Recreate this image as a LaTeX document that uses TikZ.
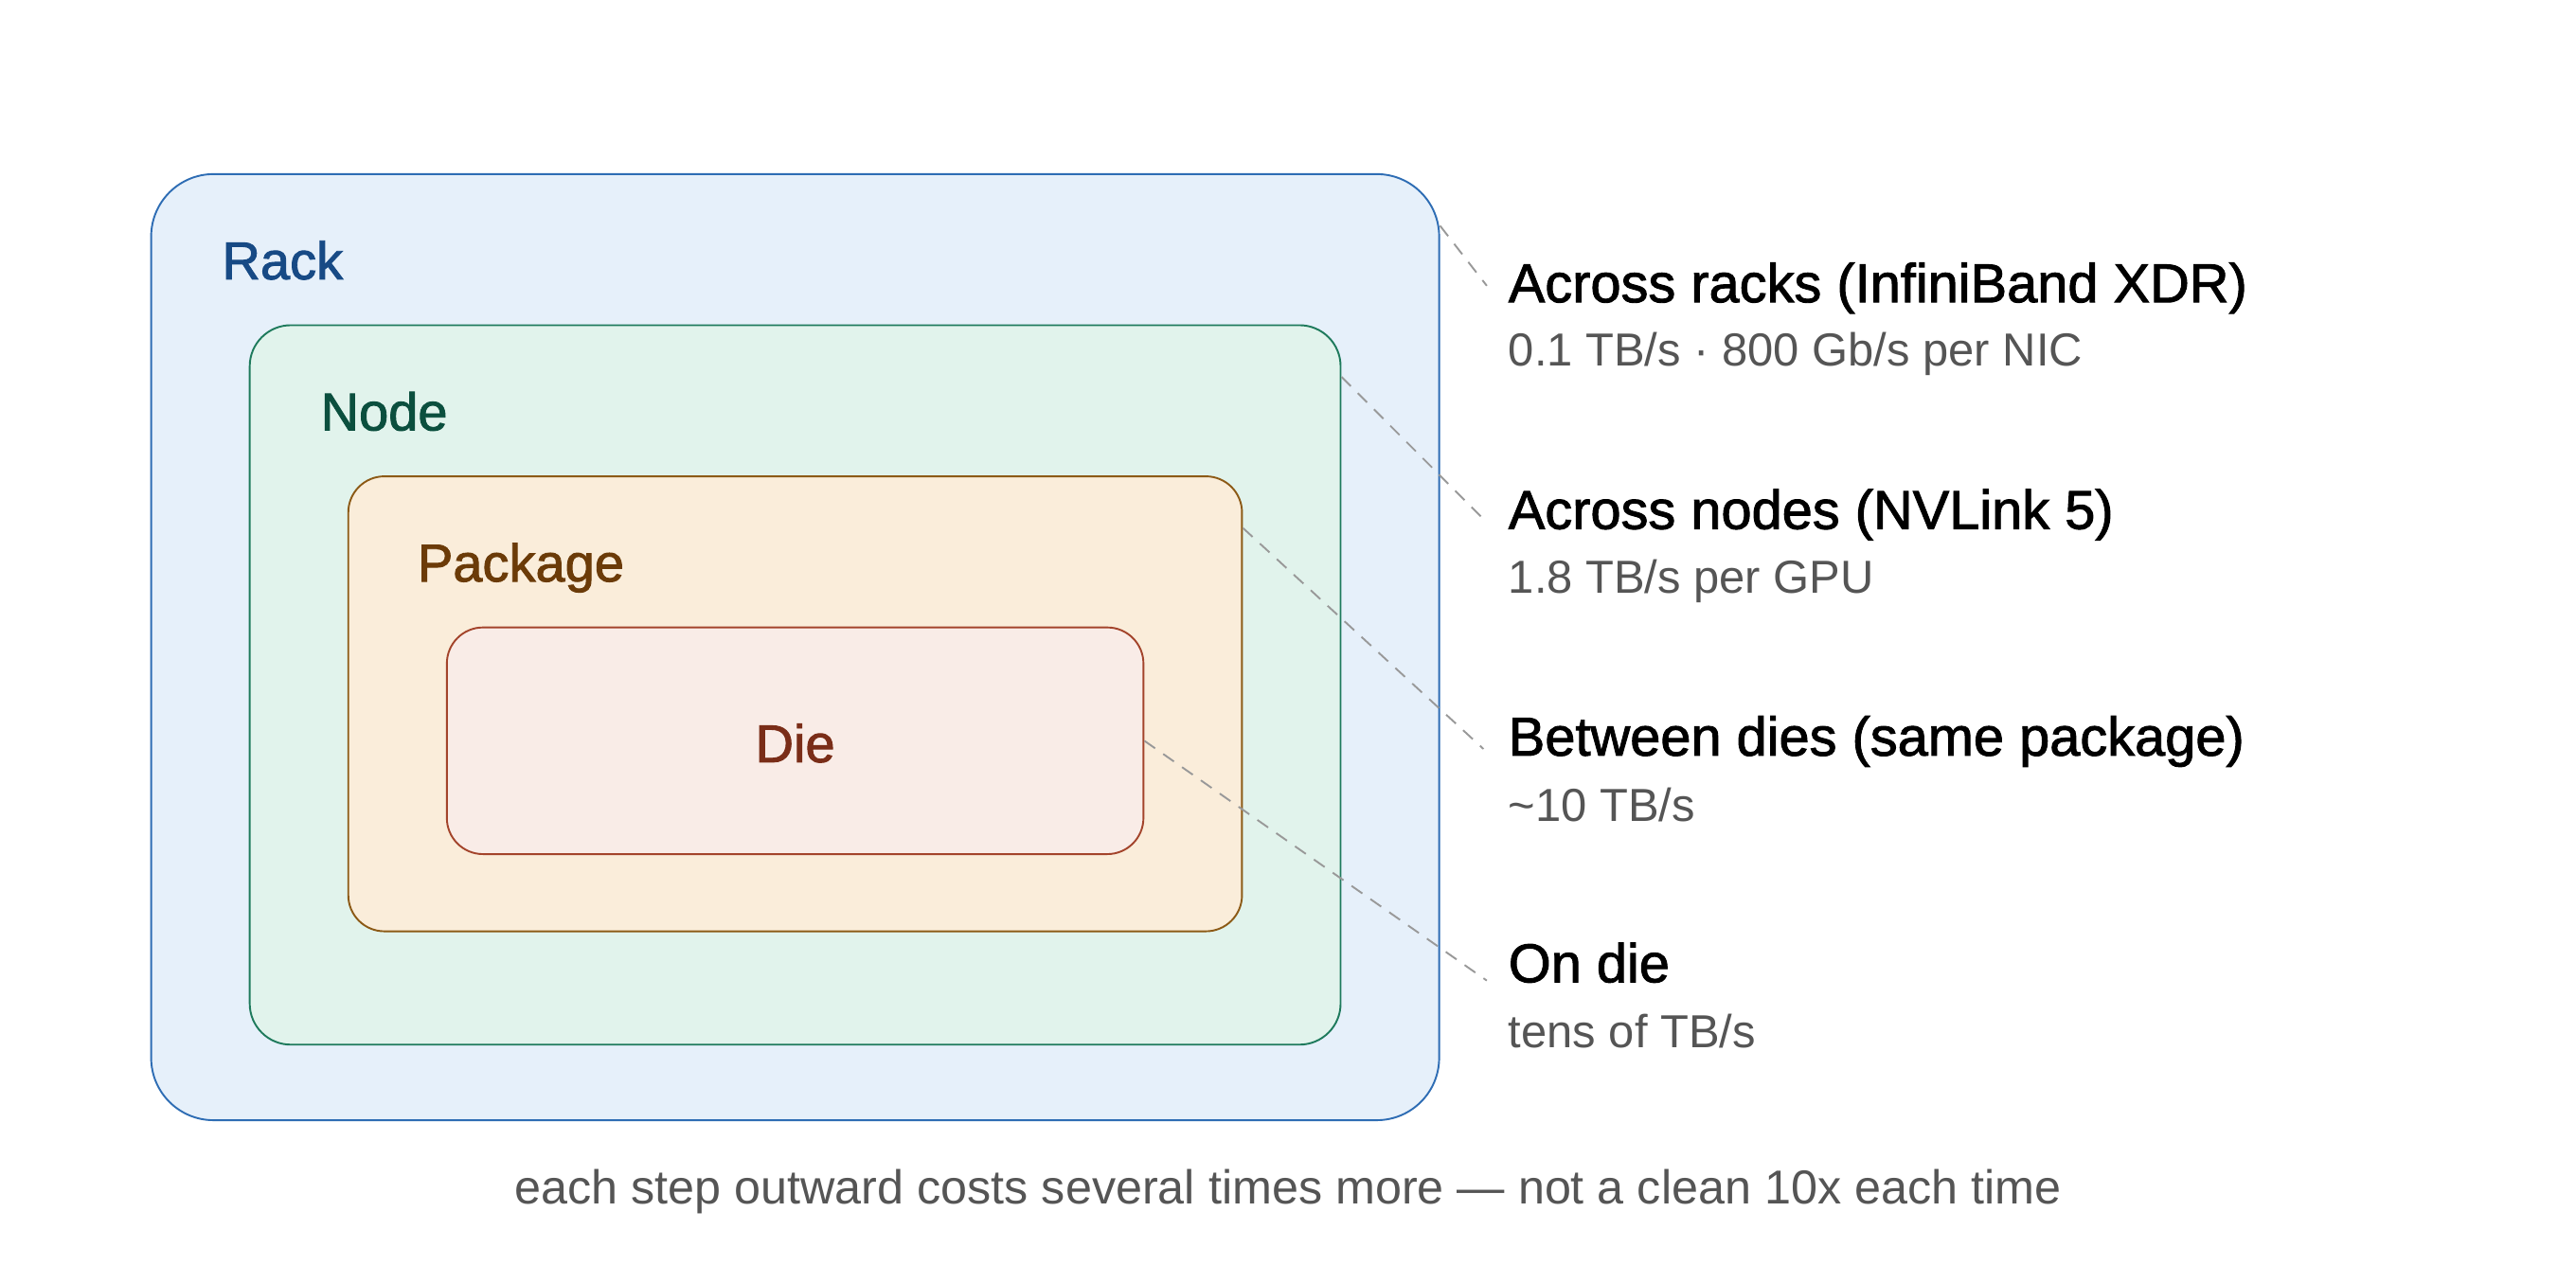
\documentclass[tikz,border=0pt]{standalone}
\usepackage{fontspec}
\setmainfont{Liberation Sans}
\newfontfamily\medfont[FakeBold=1.6]{Liberation Sans}
\usetikzlibrary{calc}
\definecolor{rackfill}{HTML}{E6F0FA}
\definecolor{rackdraw}{HTML}{2E6DB4}
\definecolor{racktext}{HTML}{174A85}
\definecolor{nodefill}{HTML}{E1F3EC}
\definecolor{nodedraw}{HTML}{1E7A5C}
\definecolor{nodetext}{HTML}{0B4F3E}
\definecolor{pkgfill}{HTML}{FAEDDA}
\definecolor{pkgdraw}{HTML}{8C5A16}
\definecolor{pkgtext}{HTML}{6B3B08}
\definecolor{diefill}{HTML}{F9ECE7}
\definecolor{diedraw}{HTML}{A3442B}
\definecolor{dietext}{HTML}{7A2D18}
\definecolor{subgray}{HTML}{555555}
\definecolor{leadgray}{HTML}{999999}
\tikzset{
  layer/.style={draw, line width=1.1pt, inner sep=0pt},
  boxlabel/.style={anchor=base west, inner sep=0pt, font=\medfont\fontsize{32.3}{38}\selectfont},
  title/.style={anchor=base west, inner sep=0pt, font=\medfont\fontsize{33.3}{40}\selectfont, text=black},
  subtitle/.style={anchor=base west, inner sep=0pt, font=\fontsize{28.2}{34}\selectfont, text=subgray},
  leader/.style={draw=leadgray, line width=1.1pt, dash pattern=on 8pt off 6pt},
}
\begin{document}
\begin{tikzpicture}[x=1pt,y=-1pt]
\useasboundingbox[fill=white] (0,0) rectangle (1568,770);
% boxes
\node[layer, fill=rackfill, draw=rackdraw, rounded corners=38pt, minimum width=784pt, minimum height=576pt] (rack) at (484,394) {};
\node[layer, fill=nodefill, draw=nodedraw, rounded corners=25pt, minimum width=664pt, minimum height=438pt] (node) at (484,417) {};
\node[layer, fill=pkgfill, draw=pkgdraw, rounded corners=22pt, minimum width=544pt, minimum height=277pt] (pkg) at (484,428.5) {};
\node[layer, fill=diefill, draw=diedraw, rounded corners=22pt, minimum width=424pt, minimum height=138pt] (die) at (484,451) {};
% box labels
\node[boxlabel, text=racktext] (racklbl) at (135,170) {Rack};
\node[boxlabel, text=nodetext] (nodelbl) at (195,262) {Node};
\node[boxlabel, text=pkgtext] (pkglbl) at (254,354) {Package};
\node[anchor=base, inner sep=0pt, font=\medfont\fontsize{32.3}{38}\selectfont, text=dietext] (dielbl) at (484,464) {Die};
% right-side titles
\node[title] (t1) at (918,184) {Across racks (InfiniBand XDR)};
\node[subtitle] (s1) at (918,223) {0.1 TB/s · 800 Gb/s per NIC};
\node[title] (t2) at (918,322) {Across nodes (NVLink 5)};
\node[subtitle] (s2) at (918,361) {1.8 TB/s per GPU};
\node[title] (t3) at (918,460) {Between dies (same package)};
\node[subtitle] (s3) at (918,500) {\char`~10 TB/s};
\node[title] (t4) at (918,598) {On die};
\node[subtitle] (s4) at (918,638) {tens of TB/s};
% caption
\node[anchor=base, inner sep=0pt, font=\fontsize{29}{35}\selectfont, text=subgray] (cap) at (784,733) {each step outward costs several times more — not a clean 10x each time};
% leader end points
\coordinate (e1) at (905,174);
\coordinate (e2) at (905,318);
\coordinate (e3) at (903,456);
\coordinate (e4) at (905,597);
% leaders
\draw[leader] ($(rack.north east)+(0,32)$) -- (e1);
\draw[leader] ($(node.north east)+(0,32)$) -- (e2);
\draw[leader] ($(pkg.north east)+(0,32)$) -- (e3);
\draw[leader] (die.east) -- (e4);
\end{tikzpicture}
\end{document}
